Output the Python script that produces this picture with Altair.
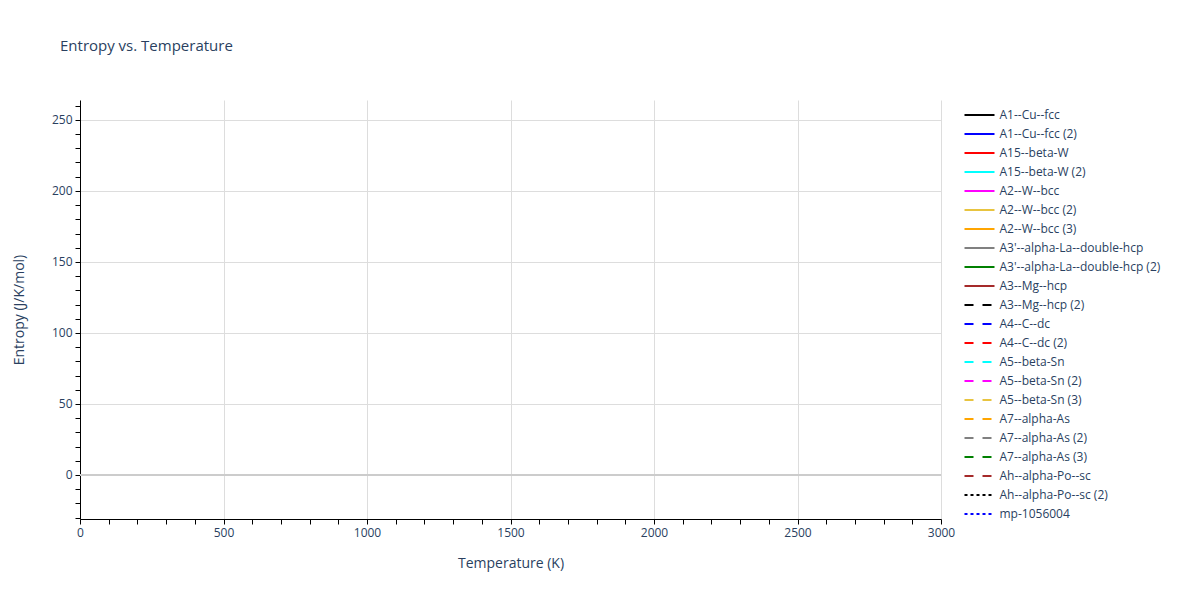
import altair as alt
import pandas as pd

series = [
    "A1--Cu--fcc", "A1--Cu--fcc (2)", "A15--beta-W", "A15--beta-W (2)",
    "A2--W--bcc", "A2--W--bcc (2)", "A2--W--bcc (3)",
    "A3'--alpha-La--double-hcp", "A3'--alpha-La--double-hcp (2)",
    "A3--Mg--hcp", "A3--Mg--hcp (2)", "A4--C--dc", "A4--C--dc (2)",
    "A5--beta-Sn", "A5--beta-Sn (2)", "A5--beta-Sn (3)",
    "A7--alpha-As", "A7--alpha-As (2)", "A7--alpha-As (3)",
    "Ah--alpha-Po--sc", "Ah--alpha-Po--sc (2)", "mp-1056004",
]
colors = [
    "black", "blue", "red", "cyan", "magenta", "#e8c440", "orange", "gray", "green", "brown",
    "black", "blue", "red", "cyan", "magenta", "#e8c440", "orange", "gray", "green", "brown",
    "black", "blue",
]
dashes = [[1, 0]] * 10 + [[9, 9]] * 10 + [[3, 3]] * 2

# No entropy values are shown in the reference: every series is empty
temperature = [None] * len(series)
entropy = [None] * len(series)

x_ticks = list(range(0, 3001, 100))
y_ticks = list(range(-30, 261, 10))

df = pd.DataFrame({"series": series, "T": temperature, "S": entropy})

text_color = "#2a3f5f"
font = "Open Sans"

lines = alt.Chart(df).mark_line(strokeWidth=2).encode(
    x=alt.X("T:Q", scale=alt.Scale(domain=[0, 3000], nice=False, zero=False),
            axis=alt.Axis(title="Temperature (K)", values=x_ticks, format="d",
                          tickCount=200, labelOverlap=False, labelFlush=False, grid=True,
                          labelExpr="datum.value % 500 === 0 ? datum.label : ''",
                          gridOpacity={"condition": {"test": "datum.value % 500 === 0", "value": 1}, "value": 0},
                          titlePadding=18)),
    y=alt.Y("S:Q", scale=alt.Scale(domain=[-31, 264], nice=False, zero=False),
            axis=alt.Axis(title="Entropy (J/K/mol)", values=y_ticks, format="d",
                          tickCount=200, labelOverlap=False, labelFlush=False, grid=True,
                          labelExpr="datum.value % 50 === 0 ? datum.label : ''",
                          gridOpacity={"condition": {"test": "datum.value % 50 === 0", "value": 1}, "value": 0},
                          titlePadding=25)),
    color=alt.Color("series:N", scale=alt.Scale(domain=series, range=colors),
                    legend=alt.Legend(title=None, orient="none", legendX=883.5, legendY=9,
                                      symbolType="M-1,0L5,0", symbolSize=100,
                                      symbolStrokeWidth=2,
                                      labelFontSize=12, labelFont=font, labelColor=text_color,
                                      rowPadding=7.0, labelOffset=24, labelLimit=300)),
    strokeDash=alt.StrokeDash("series:N", scale=alt.Scale(domain=series, range=dashes), legend=None),
)

zero = alt.Chart(df).mark_rule(color="#cccccc", strokeWidth=2).encode(y=alt.datum(0))

chart = alt.layer(lines, zero).properties(
    width=861, height=419,
    title=alt.TitleParams("Entropy vs. Temperature", anchor="start", frame="group",
                          dx=-20, offset=46, fontSize=15, font=font, fontWeight="normal",
                          color=text_color),
    autosize=alt.AutoSizeParams(type="none"),
    padding={"left": 72, "top": 92, "right": 251, "bottom": 73},
).configure_view(stroke=None).configure_axis(
    domainColor="#000000", tickColor="#000000", tickSize=5,
    gridColor="#dddddd", labelFont=font, labelFontSize=12, labelColor=text_color,
    titleFont=font, titleFontSize=14, titleFontWeight="normal", titleColor=text_color,
    labelPadding=3,
).configure_legend(symbolStrokeWidth=2)

chart.save("out.html", embed_options={"renderer": "svg", "actions": False})
